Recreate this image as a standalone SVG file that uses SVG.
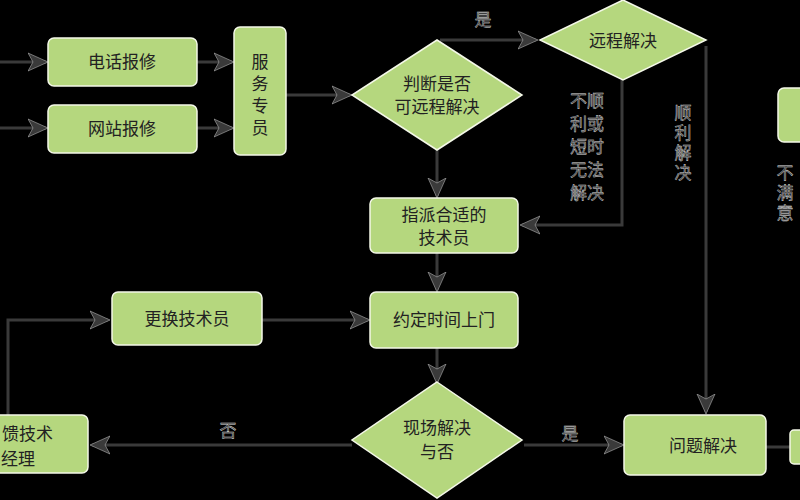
<svg xmlns="http://www.w3.org/2000/svg" width="800" height="500" viewBox="0 0 800 500">
<style>
.b{fill:#b5d77e;stroke:#f4f8e8;stroke-width:1.5}
.t{font-family:"Noto Sans CJK SC","Noto Sans",sans-serif;font-size:17px;fill:#222;text-anchor:middle}
.l{font-family:"Noto Sans CJK SC","Noto Sans",sans-serif;font-size:17px;fill:#3a3a3a;stroke:#ddd;stroke-width:0.4;text-anchor:middle}
.v{writing-mode:vertical-rl;text-anchor:start;letter-spacing:3px}
.c{fill:none;stroke:#3a3a3a;stroke-width:3}
</style>
<defs><marker id="m" markerWidth="20" markerHeight="20" refX="18" refY="10" orient="auto" markerUnits="userSpaceOnUse"><path d="M0,1L20,10L0,19L5,10z" fill="#3a3a3a" stroke="#ccc" stroke-width="0.5"/></marker></defs>
<rect width="800" height="500" fill="#000"/>
<g id="connectors">
<path class="c" d="M0,62H46" marker-end="url(#m)"/>
<path class="c" d="M0,128H46" marker-end="url(#m)"/>
<path class="c" d="M197,62H232" marker-end="url(#m)"/>
<path class="c" d="M197,128H232" marker-end="url(#m)"/>
<path class="c" d="M286,95H350" marker-end="url(#m)"/>
<path class="c" d="M440,40H536" marker-end="url(#m)"/>
<path class="c" d="M622,80V225H522" marker-end="url(#m)"/>
<path class="c" d="M706,46V412" marker-end="url(#m)"/>
<path class="c" d="M437,150V196" marker-end="url(#m)"/>
<path class="c" d="M437,253V290" marker-end="url(#m)"/>
<path class="c" d="M437,348V382" marker-end="url(#m)"/>
<path class="c" d="M262,320H368" marker-end="url(#m)"/>
<path class="c" d="M8,415V320H108" marker-end="url(#m)"/>
<path class="c" d="M352,445H92" marker-end="url(#m)"/>
<path class="c" d="M524,445H622" marker-end="url(#m)"/>
<path class="c" d="M766,447H800"/>
<text class="l" x="483" y="26">是</text>
<text class="l" x="228" y="437">否</text>
<text class="l" x="570" y="440">是</text>
<g class="l"><text x="587" y="107">不顺</text><text x="587" y="130">利或</text><text x="587" y="153">短时</text><text x="587" y="176">无法</text><text x="587" y="199">解决</text></g>
<text class="l v" x="683" y="104">顺利解决</text>
<text class="l v" x="785" y="164">不满意</text>
</g>
<g id="n1"><rect class="b" x="48" y="38" width="149" height="48" rx="6"/><text class="t" x="122" y="68">电话报修</text></g>
<g id="n2"><rect class="b" x="48" y="105" width="149" height="48" rx="6"/><text class="t" x="122" y="135">网站报修</text></g>
<g id="n3"><rect class="b" x="234" y="27" width="52" height="128" rx="6"/><text class="t" x="260" y="68">服</text><text class="t" x="260" y="90">务</text><text class="t" x="260" y="112">专</text><text class="t" x="260" y="134">员</text></g>
<g id="n4"><path class="b" d="M437,40L522,95L437,150L352,95z"/><text class="t" x="437" y="90">判断是否</text><text class="t" x="437" y="113">可远程解决</text></g>
<g id="n5"><path class="b" d="M623,0L706,40L623,80L540,40z"/><text class="t" x="623" y="47">远程解决</text></g>
<g id="n6"><rect class="b" x="370" y="198" width="148" height="55" rx="6"/><text class="t" x="444" y="221">指派合适的</text><text class="t" x="444" y="244">技术员</text></g>
<g id="n7"><rect class="b" x="370" y="292" width="148" height="56" rx="6"/><text class="t" x="444" y="326">约定时间上门</text></g>
<g id="n8"><rect class="b" x="112" y="292" width="150" height="53" rx="6"/><text class="t" x="187" y="325">更换技术员</text></g>
<g id="n9"><path class="b" d="M437,382L522,440L437,498L352,440z"/><text class="t" x="437" y="434">现场解决</text><text class="t" x="437" y="458">与否</text></g>
<g id="n10"><rect class="b" x="-60" y="415" width="148" height="58" rx="6"/><text class="t" x="2" y="440" style="text-anchor:start">馈技术</text><text class="t" x="1" y="465" style="text-anchor:start">经理</text></g>
<g id="n11"><rect class="b" x="624" y="415" width="142" height="60" rx="6"/><text class="t" x="703" y="452">问题解决</text></g>
<g id="n12"><rect class="b" x="778" y="88" width="40" height="54" rx="6"/></g>
<g id="n13"><rect class="b" x="790" y="430" width="30" height="34" rx="4"/></g>
</svg>
